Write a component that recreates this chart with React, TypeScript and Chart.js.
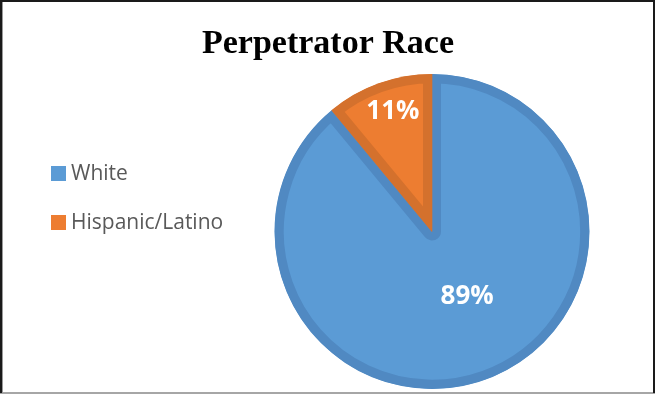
import React, { useEffect, useRef } from "react";
import { Chart, registerables } from "chart.js";

Chart.register(...registerables);

const title = "Perpetrator Race";
const categories = ["White", "Hispanic/Latino"];
const values = [89, 11];
const percentLabels = ["89%", "11%"];
const fillColors = ["#5B9BD5", "#ED7D31"];
const borderColors = ["#5089C2", "#D4712D"];
const labelRadius = [0.47, 0.8];
const labelAngleShift = [-0.15, 0.03];

const overlayPlugin = {
  id: "overlay",
  afterDraw(chart: any) {
    const ctx = chart.ctx as CanvasRenderingContext2D;
    const W = chart.width;
    const H = chart.height;
    ctx.save();
    // frame
    ctx.fillStyle = "#A6A6A6";
    ctx.fillRect(0, H - 3, W, 2);
    ctx.fillStyle = "#9a9a9a";
    ctx.fillRect(0, 0, 3, H - 2);
    ctx.fillStyle = "#1a1a1a";
    ctx.fillRect(0, 0, 2, H - 2);
    ctx.fillRect(0, 0, W, 2);
    ctx.fillRect(W - 2, 0, 2, H - 2);

    // title
    ctx.fillStyle = "#000000";
    ctx.font = "bold 34px 'Liberation Serif', 'Times New Roman', serif";
    ctx.textAlign = "center";
    ctx.textBaseline = "alphabetic";
    ctx.fillText(title, 328, 53);

    // legend
    const legendY = [173, 222];
    ctx.font = "21px 'Open Sans', sans-serif";
    ctx.textAlign = "left";
    ctx.textBaseline = "middle";
    categories.forEach((c, i) => {
      ctx.fillStyle = fillColors[i];
      ctx.fillRect(51, legendY[i] - 7, 15, 15);
      ctx.fillStyle = "#595959";
      ctx.fillText(c, 71, legendY[i] + 1);
    });

    // data labels
    const meta = chart.getDatasetMeta(0);
    ctx.fillStyle = "#FFFFFF";
    ctx.font = "bold 26px 'Open Sans', sans-serif";
    ctx.textAlign = "center";
    ctx.textBaseline = "middle";
    meta.data.forEach((arc: any, i: number) => {
      const p = arc.getProps(["x", "y", "startAngle", "endAngle", "outerRadius"], true);
      const mid = (p.startAngle + p.endAngle) / 2 + labelAngleShift[i];
      const r = p.outerRadius * labelRadius[i];
      ctx.fillText(percentLabels[i], p.x + Math.cos(mid) * r, p.y + Math.sin(mid) * r);
    });
    ctx.restore();
  },
};

export default function App() {
  const ref = useRef<HTMLCanvasElement | null>(null);
  useEffect(() => {
    document.body.style.margin = "0";
    const chart = new Chart(ref.current as HTMLCanvasElement, {
      type: "pie",
      data: {
        labels: categories,
        datasets: [
          {
            data: values,
            backgroundColor: fillColors,
            borderColor: borderColors,
            borderWidth: 9,
            borderAlign: "inner",
          } as any,
        ],
      },
      options: {
        responsive: false,
        animation: false,
        layout: { padding: { top: 74, bottom: 6, left: 274, right: 65 } },
        plugins: {
          legend: { display: false },
          title: { display: false },
          tooltip: { enabled: false },
        },
      },
      plugins: [overlayPlugin],
    });
    return () => chart.destroy();
  }, []);
  return (
    <div style={{ width: 655, height: 395, background: "#fff" }}>
      <canvas ref={ref} width={655} height={395} style={{ display: "block" }} />
    </div>
  );
}
